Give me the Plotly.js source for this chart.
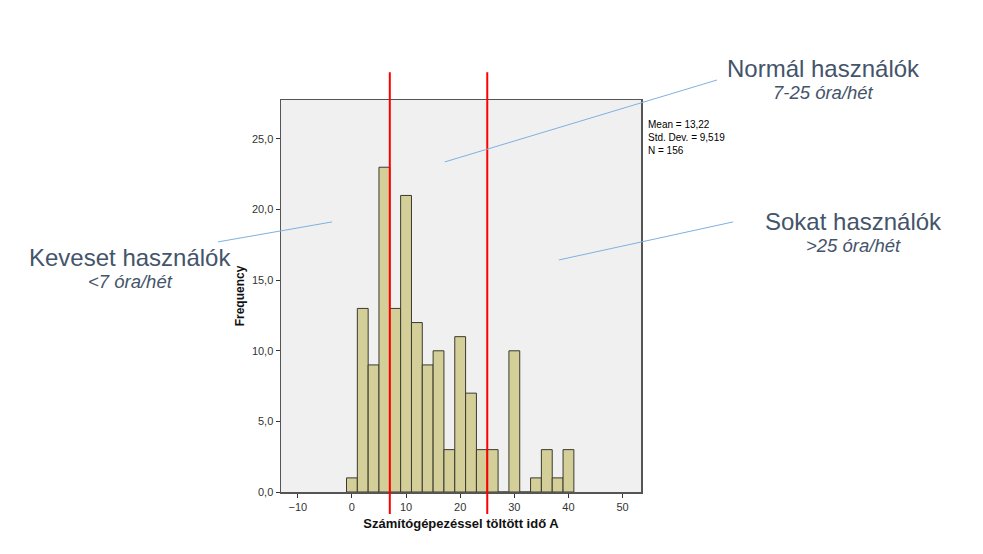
<!DOCTYPE html>
<html>
<head>
<meta charset="utf-8">
<script src="https://cdn.plot.ly/plotly-3.0.1.min.js"></script>
<style>
  body { margin: 0; background: #fff; }
  #chart { width: 983px; height: 554px; }
</style>
</head>
<body>
<div id="chart"></div>
<script>
// Histogram bins (width 2 hours), centre of each bin
const binCenters = [0, 2, 4, 6, 8, 10, 12, 14, 16, 18, 20, 22, 24, 26, 28, 30, 32, 34, 36, 38, 40];
const frequency = [1, 13, 9, 23, 13, 21, 12, 9, 10, 3, 11, 7, 3, 3, 0, 10, 0, 1, 3, 1, 3];

// Cut-off lines between user groups (hours / week)
const cutoffs = [7, 25];

const statsText = ['Mean = 13,22', 'Std. Dev. = 9,519', 'N = 156'];

const groups = [
    { name: 'Keveset használók', range: '<7 óra/hét' },
    { name: 'Normál használók', range: '7-25 óra/hét' },
    { name: 'Sokat használók', range: '>25 óra/hét' }
];

const font = 'Arial, "Liberation Sans", sans-serif';
const labelColor = '#44546a';

const histTrace = {
    x: binCenters,
    y: frequency,
    type: 'bar',
    width: 2,
    marker: {
        color: '#d4cf98',
        line: { color: '#3a3a30', width: 1 }
    },
    hoverinfo: 'x+y',
    showlegend: false
};

// red vertical cut-off lines, reaching a bit beyond the plot area
const cutoffShapes = cutoffs.map(c => ({
    type: 'line',
    xref: 'x', yref: 'paper',
    x0: c, x1: c, y0: -0.056, y1: 1.071,
    line: { color: '#ff0000', width: 2 }
}));

// thin blue pointer lines from the labels into the plot
const pointerShapes = [
    [-0.175, 0.638, 0.142, 0.689],
    [0.455, 0.842, 1.211, 1.051],
    [0.772, 0.592, 1.256, 0.689]
].map(p => ({
    type: 'line',
    xref: 'paper', yref: 'paper',
    x0: p[0], y0: p[1], x1: p[2], y1: p[3],
    line: { color: '#7fb0e0', width: 1 }
}));

const labelPos = [
    { x: -0.419, y: 0.597, y2: 0.536 },
    { x: 1.506, y: 1.08, y2: 1.018 },
    { x: 1.589, y: 0.69, y2: 0.628 }
];

const groupAnnotations = [];
groups.forEach((g, i) => {
    groupAnnotations.push({
        xref: 'paper', yref: 'paper',
        x: labelPos[i].x, y: labelPos[i].y,
        text: g.name, showarrow: false,
        xanchor: 'center', yanchor: 'middle',
        font: { family: font, size: 24, color: labelColor }
    });
    groupAnnotations.push({
        xref: 'paper', yref: 'paper',
        x: labelPos[i].x, y: labelPos[i].y2,
        text: '<i>' + g.range + '</i>', showarrow: false,
        xanchor: 'center', yanchor: 'middle',
        font: { family: font, size: 18.5, color: labelColor }
    });
});

const statsAnnotation = {
    xref: 'paper', yref: 'paper',
    x: 1.013, y: 0.957,
    xanchor: 'left', yanchor: 'top', align: 'left',
    text: statsText.join('<br>'),
    showarrow: false,
    font: { family: font, size: 10, color: '#000' }
};

const layout = {
    width: 983,
    height: 554,
    margin: { l: 281, r: 342, t: 100, b: 62 },
    paper_bgcolor: '#ffffff',
    plot_bgcolor: '#f0f0f0',
    separators: ', ',
    bargap: 0,
    font: { family: font, size: 11, color: '#333' },
    xaxis: {
        range: [-13.1, 53.4],
        tick0: -10, dtick: 10,
        ticks: 'outside', ticklen: 4, tickcolor: '#333',
        showgrid: false, zeroline: false,
        showline: true, mirror: true, linecolor: '#555', linewidth: 1.5,
        tickfont: { family: font, size: 11, color: '#333' },
        title: {
            text: '<b>Számítógépezéssel töltött idő A</b>',
            font: { family: font, size: 13, color: '#111' },
            standoff: 7
        }
    },
    yaxis: {
        range: [0, 27.76],
        dtick: 5,
        tickformat: '.1f',
        ticks: 'outside', ticklen: 4, tickcolor: '#333',
        showgrid: false, zeroline: false,
        showline: true, mirror: true, linecolor: '#555', linewidth: 1.5,
        tickfont: { family: font, size: 11, color: '#333' },
        title: {
            text: '<b>Frequency</b>',
            font: { family: font, size: 12, color: '#111' },
            standoff: 4
        }
    },
    shapes: cutoffShapes.concat(pointerShapes),
    annotations: groupAnnotations.concat([statsAnnotation])
};

Plotly.newPlot('chart', [histTrace], layout, { displayModeBar: false, staticPlot: true });
</script>
</body>
</html>
